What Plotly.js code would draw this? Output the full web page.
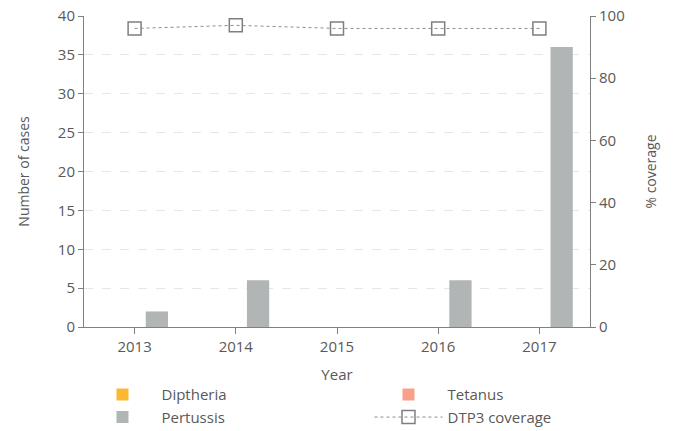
<!DOCTYPE html>
<html>
<head>
<meta charset="utf-8">
<script src="https://cdn.plot.ly/plotly-3.0.1.min.js"></script>
<style>html,body{margin:0;padding:0;background:#fff;}#chart{width:674px;height:431px;}</style>
</head>
<body>
<div id="chart"></div>
<script>
var years = ["2013", "2014", "2015", "2016", "2017"];
var diphtheria = [0, 0, 0, 0, 0];
var tetanus = [0, 0, 0, 0, 0];
var pertussis = [2, 6, 0, 6, 36];
var dtp3Coverage = [96, 97, 96, 96, 96];

var fontFam = "'Open Sans', 'Noto Sans', sans-serif";
var txt = "#595959";

var traces = [
  {type: "bar", name: "Diptheria", x: years, y: diphtheria, marker: {color: "#fbb832"}},
  {type: "bar", name: "Tetanus", x: years, y: tetanus, marker: {color: "#f7a08a"}},
  {type: "bar", name: "Pertussis", x: years, y: pertussis, marker: {color: "#b2b5b5"}},
  {type: "scatter", mode: "lines+markers", name: "DTP3 coverage", x: years, y: dtp3Coverage, yaxis: "y2",
   line: {color: "#8c8c8c", width: 1, dash: "dot"},
   marker: {symbol: "square-open", size: 13, color: "#7f7f7f", line: {width: 1.5, color: "#7f7f7f"}}}
];

var layout = {
  width: 674, height: 431,
  margin: {l: 84, r: 84, t: 16, b: 104, autoexpand: false},
  paper_bgcolor: "#fff", plot_bgcolor: "#fff",
  font: {family: fontFam, color: txt, size: 15},
  barmode: "group", bargap: 0.34, bargroupgap: 0,
  showlegend: true,
  legend: {orientation: "h", x: -0.001, xanchor: "left", y: -0.165, yanchor: "top",
           entrywidth: 203, entrywidthmode: "pixels", traceorder: "normal",
           font: {size: 15, color: txt}, itemwidth: 68, tracegroupgap: 0},
  xaxis: {
    title: {text: "Year", font: {size: 15, color: txt}, standoff: 14},
    tickson: "boundaries", ticks: "outside", ticklen: 6, tickcolor: "#808080",
    showline: true, linecolor: "#808080", linewidth: 1,
    tickfont: {size: 15, color: txt}, showgrid: false, zeroline: false
  },
  yaxis: {
    title: {text: "Number of cases", font: {size: 14, color: txt}, standoff: 24},
    range: [0, 40], dtick: 5, ticks: "outside", ticklen: 5, tickcolor: "#808080",
    showline: true, linecolor: "#808080", linewidth: 1,
    showgrid: true, gridcolor: "#e6e6e6", griddash: "dash", gridwidth: 1,
    zeroline: false, tickfont: {size: 15, color: txt}
  },
  yaxis2: {
    title: {text: "% coverage", font: {size: 14, color: txt}, standoff: 22},
    overlaying: "y", side: "right", range: [0, 100], dtick: 20,
    ticks: "outside", ticklen: 5, tickcolor: "#808080",
    showline: true, linecolor: "#808080", linewidth: 1,
    showgrid: false, zeroline: false, tickfont: {size: 15, color: txt}
  }
};

Plotly.newPlot("chart", traces, layout, {displayModeBar: false, staticPlot: true});
</script>
</body>
</html>
